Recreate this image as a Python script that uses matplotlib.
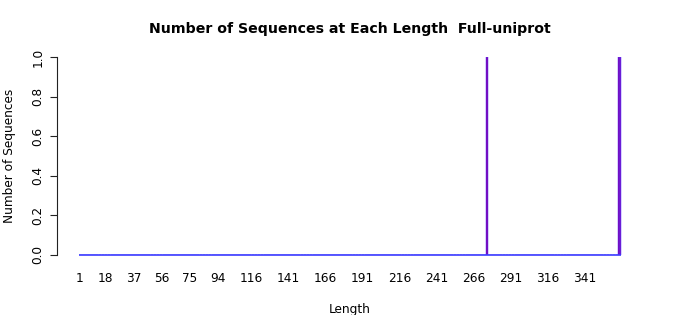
import numpy as np
import matplotlib
matplotlib.use("Agg")
import matplotlib.pyplot as plt

# sequence lengths 1..365 and how many sequences have each length
lengths = np.arange(1, 366)
counts = np.zeros(len(lengths))
counts[lengths == 275] = 1
counts[lengths == 364] = 1
counts[lengths == 365] = 1

tick_labels = [1, 18, 37, 56, 75, 94, 116, 141, 166, 191, 216, 241, 266, 291, 316, 341]
y_ticks = [0.0, 0.2, 0.4, 0.6, 0.8, 1.0]

fig = plt.figure(figsize=(7, 3.15), dpi=100)
# axes box in pixels: left 57, right 643, bottom 255, top 57
ax = fig.add_axes([57 / 700, 1 - 255 / 315, (643 - 57) / 700, (255 - 57) / 315])

ax.bar(lengths, counts, width=0.9, color="#7a00b0", edgecolor="#5a3cff", linewidth=0.35)
# zero-height bars still show their border as a line along the bottom
ax.hlines(0, lengths[0] - 0.5, lengths[-1] + 0.5, color="#3c3cff", linewidth=1.2,
          clip_on=False, zorder=3)

px_per_unit = 1.4853
ax.set_xlim(1 - (80 - 57) / px_per_unit, 1 + (643 - 80) / px_per_unit)
ax.set_ylim(0, 1)

for s in ["top", "right", "bottom"]:
    ax.spines[s].set_visible(False)
ax.spines["left"].set_color("#222222")
ax.spines["left"].set_linewidth(0.8)

ax.set_xticks(tick_labels)
ax.set_xticklabels([str(t) for t in tick_labels], fontsize=8.7)
ax.tick_params(axis="x", length=0, pad=12)

ax.set_yticks(y_ticks)
ax.set_yticklabels(["%.1f" % t for t in y_ticks], rotation=90, va="center", fontsize=8.7)
ax.tick_params(axis="y", length=5, width=0.8, color="#222222", pad=4)

ax.set_xlabel("Length", fontsize=8.7, labelpad=13)
ax.set_ylabel("Number of Sequences", fontsize=8.7, labelpad=11)
fig.text(350 / 700, 1 - 29 / 315, "Number of Sequences at Each Length  Full-uniprot",
         ha="center", va="center", fontsize=10.2, fontweight="bold")

fig.savefig("out.png", dpi=100)
